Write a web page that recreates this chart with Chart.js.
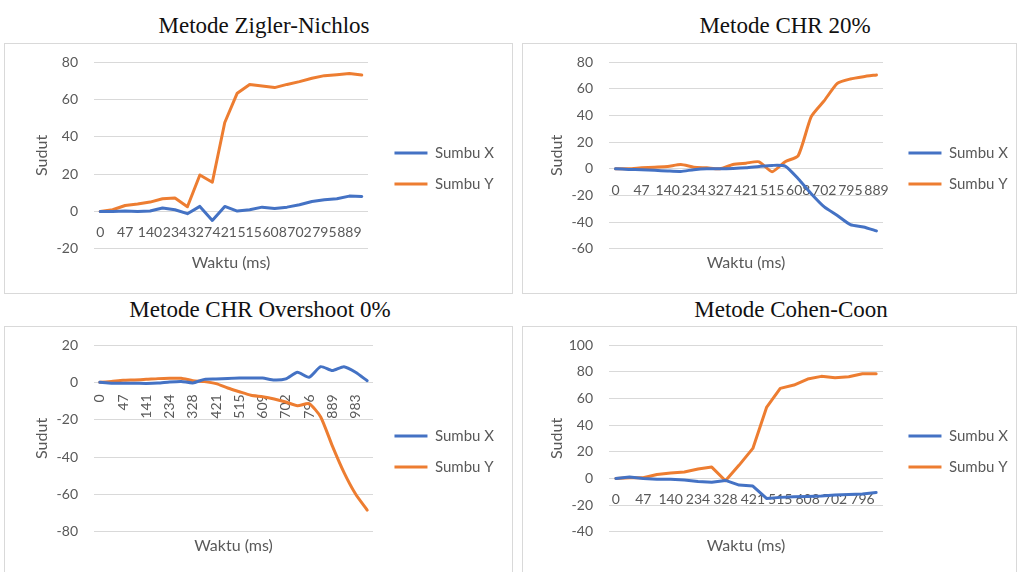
<!DOCTYPE html>
<html>
<head>
<meta charset="utf-8">
<script src="https://cdn.jsdelivr.net/npm/chart.js@4.4.1/dist/chart.umd.min.js"></script>
<style>
  html, body { margin: 0; padding: 0; background: #ffffff; }
  body { width: 1017px; height: 572px; position: relative; overflow: hidden; }
  .title {
    position: absolute; width: 400px; text-align: center;
    font-family: "Liberation Serif", "Times New Roman", serif;
    font-size: 23px; line-height: 23px; color: #111111; white-space: nowrap;
  }
  .panel { position: absolute; border: 1px solid #d9d9d9; background: #ffffff; }
  .panel canvas { display: block; }
</style>
</head>
<body>
<div class="title" style="left:64px; top:13.5px;">Metode Zigler-Nichlos</div>
<div class="title" style="left:585px; top:13.5px;">Metode CHR 20%</div>
<div class="title" style="left:60px; top:297.5px;">Metode CHR Overshoot 0%</div>
<div class="title" style="left:591px; top:297.5px;">Metode Cohen-Coon</div>

<div class="panel" style="left:4px; top:43px;"><canvas id="zn" width="507" height="249"></canvas></div>
<div class="panel" style="left:522px; top:43px;"><canvas id="chr20" width="493" height="249"></canvas></div>
<div class="panel" style="left:4px; top:326px;"><canvas id="chr0" width="507" height="249"></canvas></div>
<div class="panel" style="left:522px; top:326px;"><canvas id="cc" width="493" height="249"></canvas></div>

<script>
// Sampling times (ms) for each run; every other one is printed on the axis.
const znTime    = [0, 23, 47, 94, 140, 187, 234, 281, 327, 374, 421, 468, 515, 562, 608, 655, 702, 749, 795, 842, 889, 936];
const chr20Time = [0, 23, 47, 94, 140, 187, 234, 281, 327, 374, 421, 468, 515, 562, 608, 655, 702, 749, 795, 842, 889];
const chr0Time  = [0, 23, 47, 94, 141, 187, 234, 281, 328, 374, 421, 468, 515, 562, 609, 655, 702, 749, 796, 842, 889, 936, 983, 1030];
const ccTime    = [0, 23, 47, 94, 140, 187, 234, 281, 328, 374, 421, 468, 515, 562, 608, 655, 702, 749, 796, 842];

// Angle readings (degrees) – Ziegler-Nichols
const znSumbuX = [0, 0, 0.3, 0, 0.2, 1.8, 0.9, -1.2, 2.7, -4.8, 2.7, 0.2, 0.9, 2.3, 1.6, 2.3, 3.6, 5.3, 6.2, 6.8, 8.2, 8];
const znSumbuY = [0, 0.9, 3.2, 4, 5, 6.8, 7.2, 2.5, 19.5, 15.6, 47.6, 63.3, 68, 67.2, 66.3, 68, 69.5, 71.3, 72.7, 73.2, 73.8, 73];

// CHR 20%
const chr20SumbuX = [0, -0.5, -0.7, -1.2, -1.7, -2, -0.7, 0, 0, 0.2, 0.7, 1.7, 2.5, 2, -7.5, -18.7, -28.6, -35, -41.9, -43.6, -46.6];
const chr20SumbuY = [0, 0, 0.7, 1.2, 1.7, 3.1, 1.2, 0.7, 0, 3.2, 4.2, 5.2, -2.2, 5.3, 9.8, 39, 51, 64, 67.3, 69, 70.3];

// CHR overshoot 0%
const chr0SumbuX = [0, -0.5, -0.5, -0.5, -0.6, -0.4, 0.2, 0.5, -0.3, 1.6, 1.8, 2.1, 2.3, 2.3, 2.3, 1.3, 1.9, 5.4, 2.7, 8.4, 6.3, 8.4, 5.4, 0.9];
const chr0SumbuY = [0, 0.5, 1.1, 1.3, 1.6, 2, 2.2, 2.2, 0.9, 0.4, -0.7, -3, -5, -6.9, -7.7, -8.9, -10.5, -12.5, -11.4, -18.5, -34, -48.2, -59.8, -68.4];

// Cohen-Coon
const ccSumbuX = [0, 1, 0, -0.7, -0.7, -1.2, -2.3, -2.8, -1.5, -5, -5.7, -15, -14.2, -13.7, -13.5, -13.2, -12.5, -12, -11.7, -10.5];
const ccSumbuY = [0, 0.5, 0.5, 3, 4, 4.8, 7, 8.5, -1.7, 10, 22.5, 53.2, 67.5, 70, 74.5, 76.5, 75.5, 76.2, 78.5, 78.5];

const GRID = '#d9d9d9';
const TEXT = '#595959';
const FONT = 'Lato, "Open Sans", "DejaVu Sans", sans-serif';
const BLUE = '#4472C4';
const ORANGE = '#ED7D31';
const PAD_LEFT = 10;
const PAD_V = 18;

function makeChart(id, o) {
  const canvas = document.getElementById(id);
  return new Chart(canvas, {
    type: 'line',
    data: {
      labels: o.times,
      datasets: [
        { label: 'Sumbu X', data: o.sx, borderColor: BLUE, backgroundColor: BLUE, xAxisID: 'x', yAxisID: 'y' },
        { label: 'Sumbu Y', data: o.sy, borderColor: ORANGE, backgroundColor: ORANGE, xAxisID: 'x', yAxisID: 'y' }
      ]
    },
    options: {
      responsive: false,
      animation: false,
      events: [],
      elements: {
        line: { borderWidth: 3, tension: o.tension, borderCapStyle: 'round', borderJoinStyle: 'round' },
        point: { radius: 0, hoverRadius: 0 }
      },
      layout: { padding: { left: PAD_LEFT, right: o.padRight, top: PAD_V, bottom: PAD_V } },
      plugins: {
        title: { display: false },
        tooltip: { enabled: false },
        legend: {
          position: 'right',
          maxWidth: 200,
          labels: {
            boxWidth: 33, boxHeight: 3, padding: 16, color: TEXT,
            font: { family: FONT, size: 15 },
            generateLabels(chart) {
              return chart.data.datasets.map((ds, i) => ({
                text: ds.label, fillStyle: ds.borderColor, strokeStyle: ds.borderColor,
                lineWidth: 0, hidden: false, datasetIndex: i, fontColor: TEXT
              }));
            }
          }
        }
      },
      scales: {
        x: {
          type: 'category',
          position: { y: 0 },
          offset: true,
          grid: { display: false, drawTicks: false },
          border: { display: false },
          ticks: {
            autoSkip: false, minRotation: o.rot, maxRotation: o.rot, padding: o.tickPad,
            color: TEXT, font: { family: FONT, size: 14 },
            callback(value, index) { return index % 2 === 0 ? this.getLabelForValue(value) : ''; }
          }
        },
        y: {
          min: o.min, max: o.max,
          grid: { color: GRID, lineWidth: 1, drawTicks: true, tickLength: 16, tickColor: 'rgba(0,0,0,0)' },
          border: { display: false },
          ticks: { stepSize: 20, padding: 0, color: TEXT, font: { family: FONT, size: 14 } },
          title: { display: true, text: 'Sudut', color: TEXT, font: { family: FONT, size: 16 },
                   padding: { top: o.titleX - PAD_LEFT - 9.6, bottom: 0 } },
          afterFit(s) { s.width = o.left - PAD_LEFT; }
        },
        xTitle: {
          type: 'linear', axis: 'x', position: 'bottom',
          ticks: { display: false }, grid: { display: false, drawTicks: false }, border: { display: false },
          title: { display: true, text: 'Waktu (ms)', color: TEXT, font: { family: FONT, size: 16 },
                   padding: { top: 4, bottom: 21 - PAD_V } }
        },
        gap: {
          type: 'linear', axis: 'y', position: 'right',
          ticks: { display: false }, grid: { display: false, drawTicks: false }, border: { display: false },
          afterFit(s) {
            const lw = s.chart.legend ? s.chart.legend.width : 0;
            s.width = Math.max(0, canvas.width - o.padRight - lw - o.right);
          }
        }
      }
    }
  });
}

makeChart('zn',    { times: znTime,    sx: znSumbuX,    sy: znSumbuY,    min: -20, max: 80,  rot: 0,  tickPad: 13, tension: 0,   left: 89, right: 363, padRight: 8,  titleX: 37 });
makeChart('chr20', { times: chr20Time, sx: chr20SumbuX, sy: chr20SumbuY, min: -60, max: 80,  rot: 0,  tickPad: 13, tension: 0.2, left: 86, right: 360, padRight: -2, titleX: 34 });
makeChart('chr0',  { times: chr0Time,  sx: chr0SumbuX,  sy: chr0SumbuY,  min: -80, max: 20,  rot: 90, tickPad: 12, tension: 0.2, left: 89, right: 368, padRight: 8,  titleX: 37 });
makeChart('cc',    { times: ccTime,    sx: ccSumbuX,    sy: ccSumbuY,    min: -40, max: 100, rot: 0,  tickPad: 13, tension: 0,   left: 86, right: 360, padRight: -2, titleX: 34 });
</script>
</body>
</html>
